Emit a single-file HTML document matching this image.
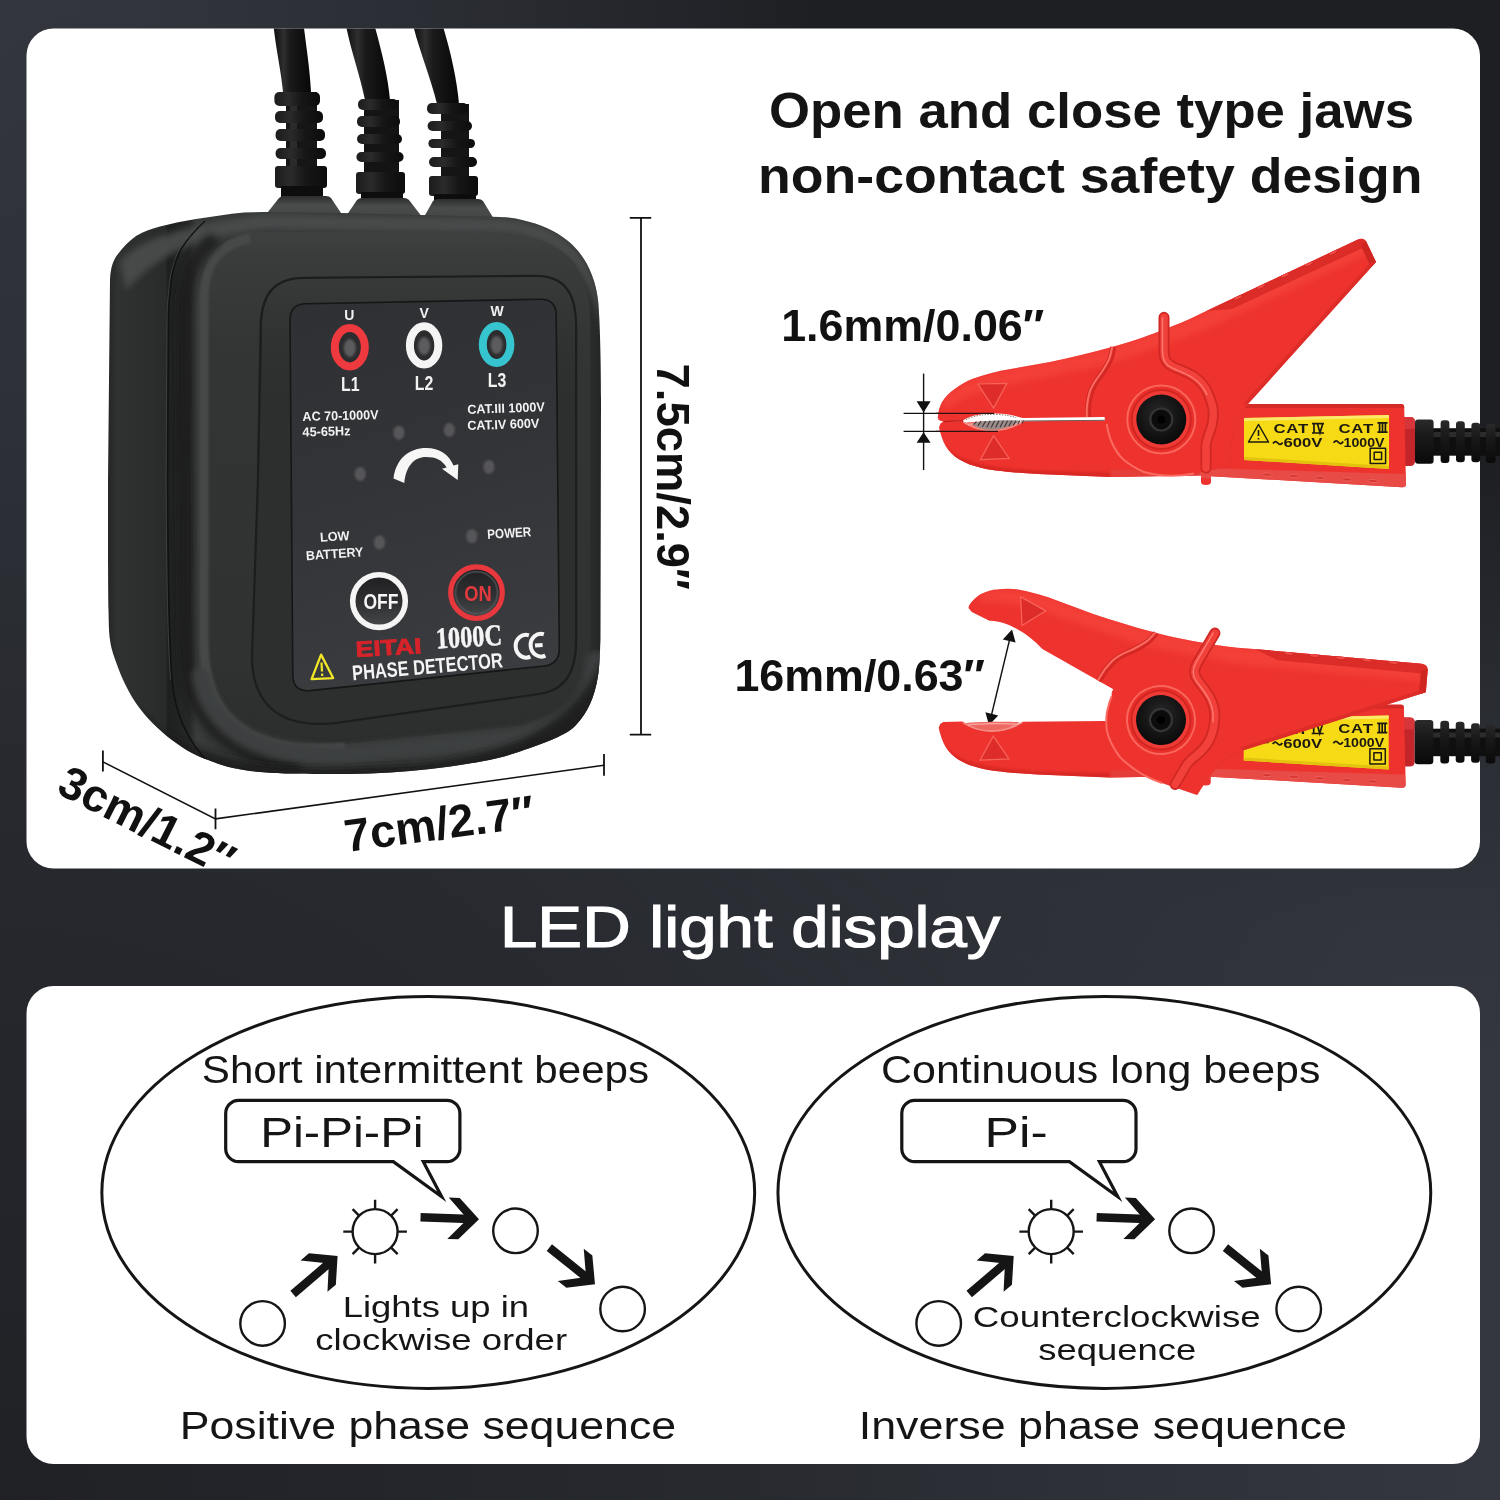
<!DOCTYPE html>
<html lang="en">
<head>
<meta charset="utf-8">
<title>Phase detector - LED light display</title>
<style>
html,body{margin:0;padding:0;width:1500px;height:1500px;overflow:hidden;background:#2a2c33;}
body{font-family:"Liberation Sans",sans-serif;}
svg{display:block;position:absolute;left:0;top:0;}
text{font-family:"Liberation Sans",sans-serif;}
.b{font-weight:bold;}
.serif{font-family:"Liberation Serif",serif;}
</style>
</head>
<body>
<svg width="1500" height="1500" viewBox="0 0 1500 1500" style="opacity:0.9999">
<defs>
  <radialGradient id="bgTR" gradientUnits="userSpaceOnUse" cx="0" cy="0" r="1" gradientTransform="translate(1500,0) scale(1600,1100)">
    <stop offset="0" stop-color="#1d1f23" stop-opacity="1"/>
    <stop offset="0.42" stop-color="#1d1f23" stop-opacity="1"/>
    <stop offset="0.62" stop-color="#1d1f23" stop-opacity="0.5"/>
    <stop offset="0.85" stop-color="#1d1f23" stop-opacity="0.1"/>
    <stop offset="1" stop-color="#1d1f23" stop-opacity="0"/>
  </radialGradient>
  <radialGradient id="bgBL" gradientUnits="userSpaceOnUse" cx="0" cy="1500" r="1500">
    <stop offset="0" stop-color="#1d1f23" stop-opacity="0.92"/>
    <stop offset="0.5" stop-color="#1d1f23" stop-opacity="0.55"/>
    <stop offset="0.75" stop-color="#1d1f23" stop-opacity="0.25"/>
    <stop offset="1" stop-color="#1d1f23" stop-opacity="0"/>
  </radialGradient>
</defs>

<!-- ============ BACKGROUND ============ -->
<rect x="0" y="0" width="1500" height="1500" fill="#34373f"/>
<rect x="0" y="0" width="1500" height="1500" fill="url(#bgTR)"/>
<rect x="0" y="0" width="1500" height="1500" fill="url(#bgBL)"/>

<!-- ============ CARDS ============ -->
<rect x="26.5" y="28.5" width="1453.5" height="840" rx="27" ry="27" fill="#ffffff"/>
<rect x="26.5" y="986" width="1453.5" height="478" rx="27" ry="27" fill="#ffffff"/>

<!-- ============ HEADINGS ============ -->
<g id="headings" fill="#141414">
  <text class="b" x="769" y="128" font-size="50" textLength="645" lengthAdjust="spacingAndGlyphs">Open and close type jaws</text>
  <text class="b" x="758" y="192.5" font-size="50" textLength="664.5" lengthAdjust="spacingAndGlyphs">non-contact safety design</text>
</g>
<text x="500" y="946.6" font-size="57.5" fill="#ffffff" stroke="#ffffff" stroke-width="1.2" textLength="500.4" lengthAdjust="spacingAndGlyphs">LED light display</text>

<!-- ============ DEVICE (phase detector) ============ -->
<defs>
  <clipPath id="card1clip"><rect x="26.5" y="28.5" width="1453.5" height="840" rx="27" ry="27"/></clipPath>
  <linearGradient id="cableG" x1="0" y1="0" x2="1" y2="0">
    <stop offset="0" stop-color="#0b0b0b"/><stop offset="0.28" stop-color="#2f2f30"/><stop offset="0.45" stop-color="#1a1a1a"/><stop offset="1" stop-color="#070707"/>
  </linearGradient>
  <linearGradient id="ribG" x1="0" y1="0" x2="1" y2="0">
    <stop offset="0" stop-color="#1c1c1c"/><stop offset="0.3" stop-color="#2b2b2b"/><stop offset="0.6" stop-color="#161616"/><stop offset="1" stop-color="#0c0c0c"/>
  </linearGradient>
  <linearGradient id="bumpG" x1="0" y1="0" x2="0" y2="1">
    <stop offset="0" stop-color="#2c2e2e"/><stop offset="0.35" stop-color="#4a4c4c"/><stop offset="0.7" stop-color="#454747"/><stop offset="1" stop-color="#3e4040"/>
  </linearGradient>
  <linearGradient id="bodyG" gradientUnits="userSpaceOnUse" x1="108" y1="0" x2="602" y2="0">
    <stop offset="0" stop-color="#252727"/><stop offset="0.02" stop-color="#303232"/><stop offset="0.1" stop-color="#2b2d2d"/><stop offset="0.117" stop-color="#292b2b"/>
    <stop offset="0.121" stop-color="#1e1f1f"/><stop offset="0.165" stop-color="#262727"/><stop offset="0.18" stop-color="#3a3b3b"/><stop offset="0.205" stop-color="#363838"/>
    <stop offset="0.9" stop-color="#333535"/><stop offset="0.96" stop-color="#303232"/><stop offset="1" stop-color="#242626"/>
  </linearGradient>
  <linearGradient id="faceG" gradientUnits="userSpaceOnUse" x1="0" y1="215" x2="0" y2="745">
    <stop offset="0" stop-color="#414343"/><stop offset="0.08" stop-color="#3a3c3c"/><stop offset="0.25" stop-color="#333535"/><stop offset="0.85" stop-color="#303232"/><stop offset="1" stop-color="#2c2e2e"/>
  </linearGradient>
  <linearGradient id="panelG" gradientUnits="userSpaceOnUse" x1="300" y1="300" x2="420" y2="690">
    <stop offset="0" stop-color="#2f3033"/><stop offset="0.5" stop-color="#333437"/><stop offset="1" stop-color="#3b3c3f"/>
  </linearGradient>
  <linearGradient id="bevelG" gradientUnits="userSpaceOnUse" x1="0" y1="277" x2="0" y2="420"><stop offset="0" stop-color="#383a3a"/><stop offset="0.4" stop-color="#333535" stop-opacity="0.7"/><stop offset="1" stop-color="#2d2f2f" stop-opacity="0"/></linearGradient>
  <radialGradient id="ledG"><stop offset="0" stop-color="#5a5a5c"/><stop offset="0.55" stop-color="#4a4a4c"/><stop offset="1" stop-color="#2d2d2f" stop-opacity="0"/></radialGradient>
  <filter id="blur1" x="-10%" y="-10%" width="120%" height="120%"><feGaussianBlur stdDeviation="1.2"/></filter>
  <filter id="blur3" x="-10%" y="-10%" width="120%" height="120%"><feGaussianBlur stdDeviation="3"/></filter>
  <filter id="blur6" x="-20%" y="-20%" width="140%" height="140%"><feGaussianBlur stdDeviation="6"/></filter>
  <clipPath id="bodyclip"><path d="M264,212L340,213L500,217C510,217.5 516,218.5 522,220C540,224 556,231 568,241C584,254 595,275 598,300C600,320 601,360 601,400L600.5,640C600.1,646.0 599.8,665.3 598.0,676.0C596.2,686.7 593.7,695.8 590.0,704.0C586.3,712.2 581.3,719.5 576.0,725.0C570.7,730.5 565.7,733.2 558.0,737.0C550.3,740.8 540.0,744.5 530.0,748.0C520.0,751.5 509.7,755.2 498.0,758.0C486.3,760.8 473.0,763.0 460.0,765.0C447.0,767.0 433.3,768.7 420.0,770.0C406.7,771.3 393.7,772.3 380.0,773.0C366.3,773.7 353.0,773.9 338.0,774.0C323.0,774.1 303.0,773.8 290.0,773.5C277.0,773.2 269.5,772.9 260.0,772.0C250.5,771.1 241.0,769.8 233.0,768.0C225.0,766.2 218.8,764.0 212.0,761.5C205.2,759.0 198.7,756.6 192.0,753.0C185.3,749.4 178.5,744.9 172.0,740.0C165.5,735.1 158.7,729.2 153.0,723.5C147.3,717.8 142.5,712.2 138.0,706.0C133.5,699.8 129.7,693.3 126.0,686.0C122.3,678.7 118.7,669.7 116.0,662.0C113.3,654.3 111.2,648.7 110.0,640.0C108.8,631.3 108.8,623.3 108.5,610.0C108.2,596.7 108.1,568.3 108.0,560.0L108,480L110,280C110.5,268 113,260 118,254C123,247 129,241 136,236C144,231 152,228.5 160,226.4C172,223.5 184,221 196,219C212,216.5 228,214 244,212.5L264,212Z"/></clipPath>
</defs>
<g id="device" clip-path="url(#card1clip)">
  <!-- cables -->
  <path d="M273,20C275,45 281,70 283,92L311,92C310,70 306,45 303,20Z" fill="url(#cableG)"/>
  <path d="M345,20C349,45 360,75 365,100L390,100C388,75 380,45 373,20Z" fill="url(#cableG)"/>
  <path d="M412,20C417,45 431,78 437,104L459,104C457,78 449,45 441,20Z" fill="url(#cableG)"/>
  <!-- strain relief 1 -->
  <g>
    <rect x="286" y="92" width="31" height="100" fill="#161616"/>
    <rect x="290" y="92" width="7" height="96" fill="#2b2b2b"/>
    <rect x="274.4" y="92" width="45.6" height="14" rx="5" fill="url(#ribG)"/>
    <rect x="275" y="111" width="48" height="12" rx="5" fill="url(#ribG)"/>
    <rect x="275.6" y="129" width="49.4" height="12" rx="5" fill="url(#ribG)"/>
    <rect x="275.6" y="148" width="50.4" height="11" rx="5" fill="url(#ribG)"/>
    <rect x="275" y="166" width="52" height="22" rx="3" fill="url(#ribG)"/>
    <rect x="281" y="186" width="42" height="12" fill="#0d0d0d"/>
  </g>
  <!-- strain relief 2 -->
  <g>
    <rect x="364" y="100" width="35" height="96" fill="#141414"/>
    <rect x="358" y="99" width="40" height="11" rx="5" fill="url(#ribG)"/>
    <rect x="357" y="116" width="43" height="11" rx="5" fill="url(#ribG)"/>
    <rect x="357" y="134" width="45" height="10" rx="5" fill="url(#ribG)"/>
    <rect x="356.4" y="152" width="47.2" height="10" rx="5" fill="url(#ribG)"/>
    <rect x="356" y="172" width="49" height="22" rx="3" fill="url(#ribG)"/>
    <rect x="361" y="192" width="42" height="8" fill="#0d0d0d"/>
  </g>
  <!-- strain relief 3 -->
  <g>
    <rect x="441" y="104" width="28" height="94" fill="#151515"/>
    <rect x="427" y="103" width="41" height="11" rx="5" fill="url(#ribG)"/>
    <rect x="427.6" y="121" width="44.4" height="10" rx="5" fill="url(#ribG)"/>
    <rect x="428.4" y="139" width="46.6" height="9" rx="4.5" fill="url(#ribG)"/>
    <rect x="429" y="157" width="48" height="10" rx="5" fill="url(#ribG)"/>
    <rect x="429" y="176" width="49" height="20" rx="3" fill="url(#ribG)"/>
    <rect x="434" y="194" width="42" height="8" fill="#0d0d0d"/>
  </g>
  <!-- bumps -->
  <path d="M260,222L279,198Q281,196 284,196H326Q329,196 331,198L347,222Z" fill="url(#bumpG)"/>
  <path d="M342,222L357,200Q359,198 362,198H404Q407,198 409,200L426,222Z" fill="url(#bumpG)"/>
  <path d="M420,224L433,201Q435,199 438,199H478Q481,199 483,201L497,224Z" fill="url(#bumpG)"/>
  <!-- body -->
  <g clip-path="url(#bodyclip)">
    <rect x="100" y="205" width="510" height="585" fill="url(#bodyG)"/>
    <!-- top rounded-edge highlight -->
    <path d="M120,262C140,238 185,226 264,214L500,218C560,222 590,250 600,300L600,330C592,270 560,238 500,233L264,229C200,236 160,252 126,290Z" fill="#4b4d4d" filter="url(#blur3)" opacity="0.9"/>
    <!-- front face -->
    <path d="M203,300C203,262 214,240 250,232L500,233C560,236 586,262 590,310L590,640C588,690 570,712 520,726L345,744C300,748 255,744 225,712C208,694 203,670 203,640Z" fill="url(#faceG)"/>
    <!-- front ridge highlight -->
    <path d="M345,747C300,751 255,747 227,716C210,697 204,672 204,640L204,300C204,266 216,246 250,238" fill="none" stroke="#474949" stroke-width="9" filter="url(#blur1)"/>
    <path d="M300,768C255,764 215,740 198,706C188,684 186,664 186,640L184,320C184,280 192,256 215,238" fill="none" stroke="#1b1c1c" stroke-width="14" filter="url(#blur3)" opacity="0.8"/>
    <!-- bottom rounded band: light then dark -->
    <path d="M201,676C210,720 244,758 345,755L520,737C574,724 592,700 596,660" fill="none" stroke="#3d3f3f" stroke-width="18" stroke-linecap="round" filter="url(#blur3)"/>
    <path d="M100,640C118,720 190,771 340,768L420,764C500,756 572,730 602,660L620,660L620,800L100,800Z" fill="#1b1c1c" filter="url(#blur3)" opacity="0.9"/>
    <!-- seam -->
    <path d="M205,221C196,229 187,240 181.6,248C176,258 172,272 170.8,284C169,300 168.4,310 168.4,320L167.5,480C168,580 169,640 172,680C175,716 188,744 214,768" fill="none" stroke="#101111" stroke-width="1.6"/>
    <path d="M203.6,221C194.6,229 185.6,240 180.2,248C174.6,258 170.6,272 169.4,284C167.6,300 167,310 167,320L166.1,480C166.6,580 167.6,640 170.6,680" fill="none" stroke="#4a4c4c" stroke-width="1" opacity="0.7"/>
    <!-- recess -->
    <path d="M259.5,330.5C259.5,293.5 272.5,276.8 305.5,276.8L534.5,274.8C565,274.8 577.2,291 577.2,326.5L577.2,639.5C577.2,675 565.5,691 539.5,695L335,724.2C286,729.2 253,711.5 250.8,660L256.8,480Z" fill="#1c1d1d"/>
    <path d="M262,331C262,295 274,279 306,279L534,277C563,277 575,292 575,327L575,639C575,673 564,689 539,693L335,722C288,727 255,710 253,660L259,480Z" fill="#2d2f2f"/>
    <path d="M262,331C262,295 274,279 306,279L534,277C563,277 575,292 575,327L575,420L262,420Z" fill="url(#bevelG)"/>
    <!-- panel -->
    <path d="M306,303.7L540,299.3Q556,299 556.2,315L559.3,648Q559.5,664 544,666L310,690.6Q293,692 292.8,675L290,320Q290,304 306,303.7Z" fill="url(#panelG)" stroke="#151616" stroke-width="1.6"/>
  </g>
  <!-- panel content -->
  <g id="panelcontent">
    <!-- terminal rings -->
    <g fill="none" stroke-width="8">
      <ellipse cx="349.8" cy="347.2" rx="15" ry="19.2" fill="#2c2c2e" stroke="#ee3a3e"/>
      <ellipse cx="424.1" cy="345.4" rx="14.2" ry="19.2" fill="#2c2c2e" stroke="#f4f4f4"/>
      <ellipse cx="496.6" cy="344.5" rx="13.8" ry="18.6" fill="#2c2c2e" stroke="#36c5cf"/>
    </g>
    <g fill="#5b5c5e" filter="url(#blur1)">
      <ellipse cx="349.8" cy="348" rx="6" ry="9"/>
      <ellipse cx="424.1" cy="346" rx="6" ry="9"/>
      <ellipse cx="496.6" cy="345" rx="6" ry="9"/>
    </g>
    <!-- LEDs -->
    <g fill="#56575a" filter="url(#blur1)">
      <ellipse cx="398.9" cy="432.7" rx="5.6" ry="7"/>
      <ellipse cx="449.3" cy="430" rx="5.6" ry="7"/>
      <ellipse cx="360.2" cy="474.1" rx="5.6" ry="7"/>
      <ellipse cx="488.9" cy="466.9" rx="5.6" ry="7"/>
      <ellipse cx="379.5" cy="542.5" rx="5.6" ry="7"/>
      <ellipse cx="471.8" cy="536.2" rx="5.6" ry="7"/>
    </g>
    <!-- rotation arrow -->
    <path d="M393.5,478.6C396,458 410,448 426,448C440,448 449,455 453.5,465.5L458.3,464.2L457.7,480L442,468.7L446.6,467.4C442,460 436,457 426,457C414,457 406,466 404.3,483.1Z" fill="#f6f6f6"/>
    <!-- texts -->
    <g fill="#f2f2f2" font-weight="bold" text-anchor="middle">
      <text x="349.4" y="319.6" font-size="14">U</text>
      <text x="424.1" y="317.6" font-size="14">V</text>
      <text x="497" y="315.8" font-size="14">W</text>
      <text x="350.3" y="391.3" font-size="20" textLength="18.5" lengthAdjust="spacingAndGlyphs">L1</text>
      <text x="424.1" y="389.5" font-size="20" textLength="18.5" lengthAdjust="spacingAndGlyphs">L2</text>
      <text x="497" y="386.8" font-size="20" textLength="18.5" lengthAdjust="spacingAndGlyphs">L3</text>
    </g>
    <g fill="#f2f2f2" font-weight="bold">
      <text transform="translate(302.6,421) rotate(-1.4)" font-size="13" textLength="76" lengthAdjust="spacingAndGlyphs">AC 70-1000V</text>
      <text transform="translate(302.6,436.4) rotate(-1.4)" font-size="13" textLength="48" lengthAdjust="spacingAndGlyphs">45-65Hz</text>
      <text transform="translate(467.4,413.9) rotate(-2)" font-size="13" textLength="77.6" lengthAdjust="spacingAndGlyphs" xml:space="preserve">CAT.III 1000V</text>
      <text transform="translate(467.4,430.1) rotate(-2)" font-size="13" textLength="72.2" lengthAdjust="spacingAndGlyphs" xml:space="preserve">CAT.IV 600V</text>
      <text transform="translate(320.2,541.8) rotate(-3.6)" font-size="13" textLength="29.6" lengthAdjust="spacingAndGlyphs">LOW</text>
      <text transform="translate(306.2,560.2) rotate(-4)" font-size="13" textLength="57.6" lengthAdjust="spacingAndGlyphs">BATTERY</text>
      <text transform="translate(487.6,539) rotate(-3.6)" font-size="13.5" textLength="44" lengthAdjust="spacingAndGlyphs">POWER</text>
    </g>
    <!-- OFF button -->
    <defs>
      <linearGradient id="btnG" x1="0" y1="0" x2="0" y2="1"><stop offset="0" stop-color="#1f1f21"/><stop offset="0.55" stop-color="#2f3032"/><stop offset="1" stop-color="#48494b"/></linearGradient>
    </defs>
    <circle cx="379" cy="601.1" r="26.3" fill="url(#btnG)" stroke="#f5f5f5" stroke-width="5.6"/>
    <text x="380.9" y="609" font-size="22" font-weight="bold" fill="#f5f5f5" text-anchor="middle" textLength="35" lengthAdjust="spacingAndGlyphs">OFF</text>
    <!-- ON button -->
    <circle cx="476.5" cy="592.7" r="25.8" fill="url(#btnG)" stroke="#e8383d" stroke-width="5.2"/>
    <circle cx="476.5" cy="592.7" r="21" fill="none" stroke="#5a5b5d" stroke-width="2" opacity="0.6"/>
    <text x="478" y="600.6" font-size="22" font-weight="bold" fill="#e23a3f" text-anchor="middle" textLength="27.5" lengthAdjust="spacingAndGlyphs">ON</text>
    <!-- brand + model -->
    <text transform="translate(356,657) rotate(-3.2)" font-size="22" font-weight="bold" fill="#d8232a" stroke="#d8232a" stroke-width="0.8" textLength="66" lengthAdjust="spacingAndGlyphs">EITAI</text>
    <text transform="translate(436.5,648.6) rotate(-3.3)" font-size="30" fill="#f5f5f5" stroke="#f5f5f5" stroke-width="0.5" textLength="66" lengthAdjust="spacingAndGlyphs" style="font-family:'Liberation Serif',serif;font-weight:700">1000C</text>
    <text transform="translate(352.8,680.3) rotate(-5)" font-size="21" font-weight="bold" fill="#f5f5f5" textLength="151" lengthAdjust="spacingAndGlyphs">PHASE DETECTOR</text>
    <!-- CE -->
    <g fill="none" stroke="#f5f5f5" stroke-width="4" transform="rotate(-4 531 645.5)">
      <path d="M529.6,635.2A10.4,11.4 0 1 0 529.6,656.6"/>
      <path d="M544.6,635.2A10.4,11.4 0 1 0 544.6,656.6M535,645.9H542.6"/>
    </g>
    <!-- warning triangle -->
    <g transform="rotate(-3 322 668)">
      <path d="M321.8,654.6L332.6,678.6H311Z" fill="none" stroke="#f2e628" stroke-width="2.3" stroke-linejoin="round"/>
      <path d="M321.8,662.5V671.5M321.8,673.6V676" stroke="#f2e628" stroke-width="2.2" fill="none"/>
    </g>
  </g>

</g>


<!-- ============ DIMENSION LINES + LABELS ============ -->
<g id="dims" stroke="#111111" stroke-width="1.8" fill="none" stroke-linecap="butt">
  <path d="M641,217.8V734.6M629.8,217.8H651.2M629.8,734.6H651.2"/>
  <path d="M102.9,761.9L215.5,818.9L604,765.3" stroke-width="1.6"/>
  <path d="M102.9,750.4V771.5M215.5,808.5V829.3M604,754.1V775.8" stroke-width="1.8"/>
  <!-- clamp 1 gap marks -->
  <path d="M923.6,373.6V470" stroke-width="1.4"/>
  <path d="M903.6,413.4H994M903.6,431.4H998" stroke-width="1.2"/>
  <!-- clamp 2 opening -->
  <path d="M1010,638L991,717" stroke-width="1.4"/>
</g>
<g fill="#111111">
  <polygon points="916.6,401.2 930.6,401.2 923.6,412.6"/>
  <polygon points="916.6,442.8 930.6,442.8 923.6,432.2"/>
  <polygon points="1012,629.5 1015.6,642.6 1002.8,639.4"/>
  <polygon points="989,725.3 985.4,712.2 998.2,715.4"/>
</g>
<g class="b" fill="#111111" font-weight="bold">
  <text transform="translate(657,363.6) rotate(90)" font-size="45.4">7.5cm/2.9&#8243;</text>
  <text transform="translate(55,792.6) rotate(26.6)" font-size="45.8">3cm/1.2&#8243;</text>
  <text transform="translate(346.6,851.9) rotate(-7.55)" font-size="46">7cm/2.7&#8243;</text>
  <text x="781.2" y="340.6" font-size="44.8">1.6mm/0.06&#8243;</text>
  <text x="734.4" y="691.4" font-size="44.8">16mm/0.63&#8243;</text>
</g>


<!-- ============ CLAMP 1 (closed) ============ -->
<defs>
  <linearGradient id="redV" x1="0" y1="0" x2="0" y2="1">
    <stop offset="0" stop-color="#f4443d"/><stop offset="0.5" stop-color="#ef342f"/><stop offset="1" stop-color="#e02a26"/>
  </linearGradient>
  <linearGradient id="boot" x1="0" y1="0" x2="0" y2="1">
    <stop offset="0" stop-color="#2a2a2a"/><stop offset="0.35" stop-color="#1a1a1a"/><stop offset="1" stop-color="#0a0a0a"/>
  </linearGradient>
  <radialGradient id="nutG" cx="0.45" cy="0.4" r="0.6">
    <stop offset="0" stop-color="#2a2a2c"/><stop offset="0.6" stop-color="#161617"/><stop offset="1" stop-color="#0a0a0a"/>
  </radialGradient>
  <g id="catlabel">
    <!-- yellow label, local coords: 0,0 = top-left, 145 x 52 -->
    <path d="M0,3L145,0V54L0,45Z" fill="#f7da16"/>
    <path d="M0,3L145,0V3L0,6Z" fill="#fbe96a"/>
    <path d="M0,42L145,51V54L0,45Z" fill="#e3c20f"/>
    <g fill="none" stroke="#1c1a10" stroke-width="1.5" stroke-linejoin="round">
      <path d="M14.5,9.5L24.5,27H4.5Z"/>
      <path d="M14.5,15V21M14.5,23V24.6" stroke-width="1.6"/>
      <rect x="126.2" y="33.2" width="15.4" height="15.4"/>
      <rect x="130.2" y="37.2" width="7.4" height="7.4"/>
    </g>
    <g fill="#1c1a10" font-weight="bold">
      <text x="29.5" y="18.4" font-size="13.6" textLength="35.5" lengthAdjust="spacingAndGlyphs" letter-spacing="0.6">CAT</text>
      <text x="94.5" y="17.6" font-size="13.6" textLength="35.5" lengthAdjust="spacingAndGlyphs" letter-spacing="0.6">CAT</text>
      <text x="39.5" y="32.4" font-size="12.6" textLength="39" lengthAdjust="spacingAndGlyphs">600V</text>
      <text x="99.5" y="31.6" font-size="12.6" textLength="41" lengthAdjust="spacingAndGlyphs">1000V</text>
    </g>
    <g fill="none" stroke="#1c1a10" stroke-width="1.7">
      <!-- IV -->
      <path d="M68,8.6H80M68,18H80M70,8.6V18M73.4,8.6L76,18L78.8,8.6"/>
      <!-- III -->
      <path d="M133.4,7.8H143.6M133.4,17.2H143.6M135.6,7.8V17.2M138.5,7.8V17.2M141.4,7.8V17.2"/>
      <!-- tildes -->
      <path d="M29,28.6q2.4,-3.6 4.8,-0.6t4.8,-0.6" stroke-width="1.8"/>
      <path d="M89.6,27.8q2.4,-3.6 4.8,-0.6t4.8,-0.6" stroke-width="1.8"/>
    </g>
  </g>
  <g id="cableboot">
    <!-- local origin at (1402, y-center). red nub + black ribbed boot + cable -->
    <path d="M0,-24H8Q13,-24 13,-19V20Q13,25 8,25H0Z" fill="#c2262b"/>
    <path d="M0,-24H8Q13,-24 13,-19V-12H0Z" fill="#d6353a"/>
    <rect x="31" y="-12.8" width="70" height="27.5" fill="#0f0f0f"/>
    <rect x="31" y="-9" width="70" height="5" fill="#2c2c2c"/>
    <rect x="13" y="-21.6" width="18.6" height="44.4" rx="3" fill="url(#boot)"/>
    <rect x="38.6" y="-20.8" width="8.8" height="42.8" rx="3.2" fill="url(#boot)"/>
    <rect x="54" y="-19.7" width="8.8" height="41" rx="3.2" fill="url(#boot)"/>
    <rect x="69.4" y="-18.3" width="8.8" height="39.6" rx="3.2" fill="url(#boot)"/>
    <rect x="84" y="-17.2" width="9.6" height="39.2" rx="3.2" fill="url(#boot)"/>
  </g>
</defs>
<defs>
  <clipPath id="upClip"><path d="M937.8,417.6C938,411 940,406 942,402C946,396 950,392 954,389.5C960,385 966,381.5 972,379C982,375.5 992,372.5 1002,370.5L1050,362C1070,358 1090,353 1110,347.5C1130,342 1145,337 1160,331C1175,325.5 1188,320 1200,314L1358,239.5Q1363,237.5 1366,241L1376,262L1248,404C1242,411 1238,418 1235,426C1232,436 1231,450 1230.4,466L1194,473.4C1176,477 1158,476 1144,472C1137,469 1130,465 1124,460C1118,455 1114,448 1110.7,440C1109,435 1107.5,430 1106.7,424L1104.7,420.3V417.1L1023,418C1016,416.2 1008,413.8 996,413.6C984,413.4 972,414.8 963,420.4L943.5,421.8L938.6,420Z"/></clipPath>
  <clipPath id="lowClip"><path d="M939,427.2L940.5,423.4L943.5,421.6L963,421C972,426.5 982,429.6 992,429.6C1004,429.4 1014,426 1023,421.3L1104.7,420.6L1160,420L1248,404H1401Q1404,404 1404.2,407L1406,484Q1406,487.5 1402,487.2L1211,476.2V482Q1211,485 1206,485Q1201,485 1201,482V475.6L1200,475.5L1110,477L1038,474C1022,473 1008,472 996,470.5C986,469 977,467 969.6,464.4C962,461.5 956,458 951.6,453.6C947,449 944,444 942,438C940.5,433.5 939.5,430 939,427.2Z"/></clipPath>
  <g id="lowerPiece">
    <use href="#cableboot" transform="translate(1402,441)"/>
    <path d="M939,427.2L940.5,423.4L943.5,421.6L963,421C972,426.5 982,429.6 992,429.6C1004,429.4 1014,426 1023,421.3L1104.7,420.6L1160,420L1248,404H1401Q1404,404 1404.2,407L1406,484Q1406,487.5 1402,487.2L1211,476.2V482Q1211,485 1206,485Q1201,485 1201,482V475.6L1200,475.5L1110,477L1038,474C1022,473 1008,472 996,470.5C986,469 977,467 969.6,464.4C962,461.5 956,458 951.6,453.6C947,449 944,444 942,438C940.5,433.5 939.5,430 939,427.2Z" fill="#ee332e"/>
    <g clip-path="url(#lowClip)">
      <!-- lower handle -->
      <path d="M1244,404H1406V408H1240Z" fill="#d62a26"/>
      <path d="M1200,468L1405.6,474L1407,490L1200,478Z" fill="#e84a45"/>
      <path d="M1110,470L1200,468V478L1110,479Z" fill="#e53d38"/>
      <g fill="#d93531" stroke="#f0706a" stroke-width="0.7">
        <ellipse cx="1267" cy="474.6" rx="5" ry="1.6" transform="rotate(3 1267 474.6)"/>
        <ellipse cx="1294" cy="476.2" rx="5" ry="1.6" transform="rotate(3 1294 476.2)"/>
        <ellipse cx="1320" cy="477.8" rx="5" ry="1.6" transform="rotate(3 1320 477.8)"/>
        <ellipse cx="1347" cy="479.4" rx="5" ry="1.6" transform="rotate(3 1347 479.4)"/>
        <ellipse cx="1373" cy="481" rx="5" ry="1.6" transform="rotate(3 1373 481)"/>
      </g>
      <!-- lower jaw darker bottom -->
      <path d="M940,440C955,462 985,467.5 1038,470.5L1110,472.5V480L1030,478C985,475 950,470 936,438Z" fill="#d52824" opacity="0.85" filter="url(#blur1)"/>
      
      <path d="M963,421C972,426.5 982,429.6 992,429.6C1004,429.4 1014,426 1023,420.8V422.6C1014,428 1004,431.2 992,431.4C982,431.4 972,428.4 963,422.8Z" fill="#f5a59f" opacity="0.8"/>
    </g>
    <path d="M966,422.4C975,421.4 1005,420.8 1020,421.6C1013,426.4 1003,429.6 992,429.8C982,429.8 973,427 966,422.4Z" fill="#ee6862"/>
    <path d="M968,424.4C980,423 1004,422.6 1017,423.6" stroke="#f9a9a3" stroke-width="1.2" fill="none"/>
    <path d="M980.4,459.6L1009.2,458.4L993.6,435.6Z" fill="#de2d29" stroke="#f7645c" stroke-width="1.2"/>
    <use href="#catlabel" transform="translate(1244,415)"/>
  </g>
  <g id="upperPiece">
    <path d="M937.8,417.6C938,411 940,406 942,402C946,396 950,392 954,389.5C960,385 966,381.5 972,379C982,375.5 992,372.5 1002,370.5L1050,362C1070,358 1090,353 1110,347.5C1130,342 1145,337 1160,331C1175,325.5 1188,320 1200,314L1358,239.5Q1363,237.5 1366,241L1376,262L1248,404C1242,411 1238,418 1235,426C1232,436 1231,450 1230.4,466L1194,473.4C1176,477 1158,476 1144,472C1137,469 1130,465 1124,460C1118,455 1114,448 1110.7,440C1109,435 1107.5,430 1106.7,424L1104.7,420.3V417.1L1023,418C1016,416.2 1008,413.8 996,413.6C984,413.4 972,414.8 963,420.4L943.5,421.8L938.6,420Z" fill="#ee332e"/>
    <g clip-path="url(#upClip)">
      <!-- upper jaw lighter top -->
      <path d="M940,400C960,382 985,374 1002,370.5L1110,347.5L1200,314L1358,239.5L1372,252L1200,332L1110,364L1002,386C985,390 965,396 945,410Z" fill="#f6493f" opacity="0.6" filter="url(#blur3)"/>
      <!-- handle top face -->
      <path d="M1205,311L1358,236Q1363,237.5 1366,241L1368,245.5L1232,309Z" fill="#dc2c28"/>
      <!-- grip bumps -->
      <g fill="#ef4a44" stroke="#c8231f" stroke-width="0.8">
        <ellipse cx="1238" cy="297.6" rx="5" ry="1.8" transform="rotate(-25.3 1238 297.6)"/>
        <ellipse cx="1261" cy="286.6" rx="5" ry="1.8" transform="rotate(-25.3 1261 286.6)"/>
        <ellipse cx="1285" cy="275.3" rx="5" ry="1.8" transform="rotate(-25.3 1285 275.3)"/>
        <ellipse cx="1309" cy="264" rx="5" ry="1.8" transform="rotate(-25.3 1309 264)"/>
        <ellipse cx="1333" cy="252.7" rx="5" ry="1.8" transform="rotate(-25.3 1333 252.7)"/>
      </g>
      <!-- handle end face -->
      <path d="M1366,241L1378,262L1371,267.5L1361,246Z" fill="#cf2622"/>
      <!-- lower edge shadow of handle -->
      <path d="M1378,262L1250,404L1243,404L1371,262Z" fill="#d92b27" opacity="0.8"/>
      <!-- flap shading -->
      <path d="M1248,404C1242,411 1238,418 1235,426C1232,436 1231,450 1230.4,466L1232,470L1252,404Z" fill="#d42824"/>
      <path d="M1230.4,466L1194,473.4C1176,477 1158,476 1144,472L1144,478L1232,478Z" fill="#d42824"/>
      
    </g>
    <path d="M978,384L1006.8,383.4L993.6,408Z" fill="#de2d29" stroke="#f7645c" stroke-width="1.2"/>
    <!-- S ridge left of pivot -->
    <path d="M1113.2,347C1112.2,353 1111.2,357 1109.9,360C1107.2,366 1104.2,370 1101.2,374.7C1096.2,381 1092.2,387 1090.5,393.3C1088.7,400 1087.7,407 1087.9,413.3V417" fill="none" stroke="#cf2723" stroke-width="6"/>
    <path d="M1113.2,347C1112.2,353 1111.2,357 1109.9,360C1107.2,366 1104.2,370 1101.2,374.7C1096.2,381 1092.2,387 1090.5,393.3C1088.7,400 1087.7,407 1087.9,413.3V417" fill="none" stroke="#f2413b" stroke-width="3.6"/>
    <path d="M1112,347C1111,353 1110,357 1108.7,360C1106,366 1103,370 1100,374.7C1095,381 1091,387 1089.3,393.3C1087.5,400 1086.5,407 1086.7,413.3V417" fill="none" stroke="#fb6a61" stroke-width="2"/>
    <path d="M1114.5,347C1113.5,353 1112.5,357 1111.2,360C1108.5,366 1105.5,370 1102.5,374.7C1097.5,381 1093.5,387 1091.8,393.3C1090,400 1089,407 1089.2,413.3V417" fill="none" stroke="#d42824" stroke-width="2"/>
    <path d="M1106.7,424C1107.5,430 1109,435 1110.7,440C1114,448 1118,455 1124,460C1130,465 1137,469 1144,472C1158,476 1176,477 1194,473.4" fill="none" stroke="#fb6a61" stroke-width="2"/>
    <!-- hook ridge -->
    <path d="M1164,317.3V352C1164,360 1167,364 1173.3,366.7C1181,370 1188,372.5 1193.3,376C1200,380.5 1205,386 1208,393.3C1211,400 1213.3,406 1213.3,413.3C1213.3,421 1211.5,428 1209.3,433.3C1207.5,438 1206,442 1206,446.7V468" fill="none" stroke="#cf2723" stroke-width="11" stroke-linecap="round"/>
    <path d="M1164,317.3V352C1164,360 1167,364 1173.3,366.7C1181,370 1188,372.5 1193.3,376C1200,380.5 1205,386 1208,393.3C1211,400 1213.3,406 1213.3,413.3C1213.3,421 1211.5,428 1209.3,433.3C1207.5,438 1206,442 1206,446.7V468" fill="none" stroke="#f2413b" stroke-width="7.5" stroke-linecap="round"/>
    <path d="M1162.5,318V352C1162.5,361 1166,365.5 1172.5,368.2C1180,371.5 1187,374 1192.3,377.5C1199,382 1204,387.5 1207,394.8" fill="none" stroke="#ff7a70" stroke-width="1.4" stroke-linecap="round"/>
    <!-- pivot boss -->
    <circle cx="1161.3" cy="419.5" r="35" fill="#ea2f2b"/>
    <circle cx="1161.3" cy="419.5" r="34" fill="none" stroke="#fa655c" stroke-width="2"/>
    <circle cx="1161.3" cy="419.5" r="29.5" fill="#f03a35" stroke="#d02622" stroke-width="2"/>
    <circle cx="1161.3" cy="419.5" r="25" fill="url(#nutG)"/>
    <circle cx="1161.3" cy="419.5" r="11" fill="#0c0c0d" stroke="#353537" stroke-width="2.2"/>
    <circle cx="1161.3" cy="419.5" r="4" fill="#000"/>
  </g>
</defs>
<g id="clamp1">
  <use href="#lowerPiece"/>
  <use href="#upperPiece"/>
  <!-- teeth inside jaw opening -->
  <path d="M972,423.4C980,421 1000,419.6 1021,420.6C1013,426 1003,429.4 992,429.6C982,429.6 975,427 972,423.4Z" fill="#9a8d8b"/>
  <path d="M974,424.5l2.4,-3m1.6,4.4l3,-4.8m1.4,5.6l3.2,-5.8m1.2,6.4l3.4,-6.6m1,6.8l3.4,-6.8m1,6.8l3.4,-6.8m1,6.6l3.4,-6.6m1,6.2l3.2,-6.2m1.2,5.6l3,-5.6m1.4,4.8l2.8,-4.8m1.6,3.8l2.4,-3.8m1.8,2.8l2,-2.8" stroke="#3d3433" stroke-width="1.1" fill="none"/>
  <path d="M966,419.6C974,415.4 984,414.2 996,414.4C1004,414.6 1010,415.8 1016,417.6" stroke="#7d7472" stroke-width="1" fill="none" stroke-dasharray="1.4 1.4"/>
  <path d="M1021,421L1104.7,420.3" stroke="#6d5c5a" stroke-width="1" fill="none"/>
  <path d="M943.5,421.7L963,420.7" stroke="#b81f1c" stroke-width="1.2" fill="none"/>
  <!-- gap dimension lines over the jaw -->
  <path d="M936,413.4H994M936,431.4H998" stroke="#2a1414" stroke-width="1.2" fill="none"/>
</g>
<!-- ============ CLAMP 2 (open) ============ -->
<g id="clamp2" transform="translate(-0.3,300.5)">
  <use href="#lowerPiece"/>
  <use href="#upperPiece" transform="rotate(30.3 1161.3 419.5)"/>
</g>


<!-- ============ LOWER CARD: LED diagrams ============ -->
<defs>
  <g id="arrow">
    <rect x="-58.5" y="-4.2" width="50" height="8.4" fill="#151515"/>
    <polygon points="-31,-20.7 -20,-20.7 0,0 -20,20.7 -31,20.7 -11.5,0" fill="#151515"/>
  </g>
  <g id="lamp" fill="#ffffff" stroke="#151515" stroke-width="2.4">
    <circle cx="0" cy="0" r="22.3"/>
  </g>
  <g id="sun" fill="none" stroke="#151515" stroke-width="2.4">
    <circle cx="0" cy="0" r="22.5" fill="#ffffff"/>
    <path d="M0,-23V-31.8M0,23V31.8M-23,0H-31.8M23,0H31.8M16.3,-16.3L22.5,-22.5M-16.3,-16.3L-22.5,-22.5M16.3,16.3L22.5,22.5M-16.3,16.3L-22.5,22.5"/>
  </g>
  <g id="seq">
    <ellipse cx="428.25" cy="1192.4" rx="326.4" ry="196" fill="none" stroke="#151515" stroke-width="3"/>
    <path d="M238.7,1100.3H446.9a13,13 0 0 1 13,13V1148.7a13,13 0 0 1 -13,13H423.3L441.7,1196.7L393.3,1161.7H238.7a13,13 0 0 1 -13,-13V1113.3a13,13 0 0 1 13,-13Z" fill="#ffffff" stroke="#151515" stroke-width="3.2" stroke-linejoin="miter" stroke-miterlimit="10"/>
    <use href="#lamp" x="262.6" y="1323.4"/>
    <use href="#sun" x="375.1" y="1231.6"/>
    <use href="#lamp" x="515.5" y="1230.8"/>
    <use href="#lamp" x="622.6" y="1309"/>
    <use href="#arrow" transform="translate(337.6,1256) rotate(-40.5)"/>
    <use href="#arrow" transform="translate(479,1219.3) rotate(2)"/>
    <use href="#arrow" transform="translate(595,1284.2) rotate(38.7)"/>
  </g>
</defs>
<use href="#seq"/>
<use href="#seq" x="676.1"/>
<g fill="#151515">
  <text x="201.8" y="1082.8" font-size="38.5" textLength="447.3" lengthAdjust="spacingAndGlyphs">Short intermittent beeps</text>
  <text x="881" y="1082.8" font-size="38.5" textLength="439.4" lengthAdjust="spacingAndGlyphs">Continuous long beeps</text>
  <text x="260.2" y="1146.8" font-size="42.5" textLength="163.6" lengthAdjust="spacingAndGlyphs">Pi-Pi-Pi</text>
  <text x="984.5" y="1146.8" font-size="42.5" textLength="63.1" lengthAdjust="spacingAndGlyphs">Pi-</text>
  <text x="342.7" y="1316.5" font-size="29.5" textLength="186.4" lengthAdjust="spacingAndGlyphs">Lights up in</text>
  <text x="315.2" y="1350.4" font-size="29.5" textLength="251.9" lengthAdjust="spacingAndGlyphs">clockwise order</text>
  <text x="972.8" y="1327" font-size="29.5" textLength="288" lengthAdjust="spacingAndGlyphs">Counterclockwise</text>
  <text x="1038.2" y="1360" font-size="29.5" textLength="158.1" lengthAdjust="spacingAndGlyphs">sequence</text>
  <text x="179.75" y="1439.3" font-size="38" textLength="496.3" lengthAdjust="spacingAndGlyphs">Positive phase sequence</text>
  <text x="858.7" y="1439.3" font-size="38" textLength="488.3" lengthAdjust="spacingAndGlyphs">Inverse phase sequence</text>
</g>


</svg>
</body>
</html>
